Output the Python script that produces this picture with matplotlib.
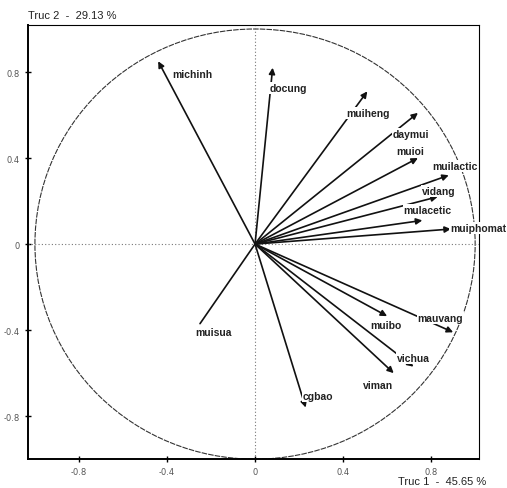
import numpy as np
import matplotlib.pyplot as plt
from matplotlib.patches import Circle

# variables and their loadings on axis 1 / axis 2
names = ["michinh", "docung", "muiheng", "daymui", "muioi", "muilactic", "vidang",
         "mulacetic", "muiphomat", "mauvang", "muibo", "vichua", "viman", "cgbao", "muisua"]
truc1 = [-0.44, 0.08, 0.51, 0.74, 0.74, 0.88, 0.83, 0.76, 0.89, 0.90, 0.60, 0.72, 0.63, 0.23, -0.25]
truc2 = [0.85, 0.82, 0.71, 0.61, 0.40, 0.32, 0.22, 0.11, 0.07, -0.41, -0.335, -0.57, -0.60, -0.76, -0.37]

ticks = [-0.8, -0.4, 0, 0.4, 0.8]
tick_labels = ["-0.8", "-0.4", "0", "0.4", "0.8"]

# where each label sits (left edge, middle), layout only
label_pos = {
    "michinh": (-0.375, 0.79), "docung": (0.068, 0.726), "muiheng": (0.416, 0.609),
    "daymui": (0.624, 0.512), "muioi": (0.643, 0.433), "muilactic": (0.805, 0.363),
    "vidang": (0.76, 0.247), "mulacetic": (0.674, 0.158), "muiphomat": (0.887, 0.074),
    "mauvang": (0.738, -0.344), "muibo": (0.525, -0.377), "vichua": (0.643, -0.53),
    "viman": (0.489, -0.656), "cgbao": (0.217, -0.707), "muisua": (-0.271, -0.41),
}
no_head = ["muisua"]  # head not visible on the scan

fig = plt.figure(figsize=(5.07, 4.89), dpi=100)
ax = fig.add_axes([0.055, 0.059, 0.89, 0.888])
ax.set_xlim(-1.032, 1.018)
ax.set_ylim(-1.0, 1.019)

# reference lines and unit circle
ax.axhline(0, color="#777777", lw=0.8, ls=(0, (1, 2)))
ax.axvline(0, color="#777777", lw=0.8, ls=(0, (1, 2)))
ax.add_patch(Circle((0, 0), 1.0, fill=False, ec="#333333", lw=0.8, ls=(0, (5, 1))))

# arrows
for n, x, y in zip(names, truc1, truc2):
    style = "-" if n in no_head else "-|>"
    ax.annotate("", xy=(x, y), xytext=(0, 0),
                arrowprops=dict(arrowstyle=style, color="#111111", lw=1.2,
                                mutation_scale=9, shrinkA=0, shrinkB=0), zorder=3)
    lx, ly = label_pos[n]
    ax.text(lx, ly, n, fontsize=7.5, fontweight="bold", family="Liberation Sans",
            color="#222222", ha="left", va="center", zorder=4,
            bbox=dict(fc="white", ec="none", pad=0.6))

ax.set_xticks(ticks)
ax.set_xticklabels(tick_labels)
ax.set_yticks(ticks)
ax.set_yticklabels(tick_labels)
ax.tick_params(direction="inout", length=5, width=1, labelsize=6, labelcolor="#555555")

for s in ["left", "bottom"]:
    ax.spines[s].set_linewidth(1.4)
for s in ["top", "right"]:
    ax.spines[s].set_linewidth(0.8)

fig.text(0.055, 0.968, "Truc 2  -  29.13 %", fontsize=8, family="Liberation Sans",
         color="#222222", ha="left", va="center")
fig.text(0.785, 0.014, "Truc 1  -  45.65 %", fontsize=8, family="Liberation Sans",
         color="#222222", ha="left", va="center")

fig.savefig("out.png", dpi=100)
